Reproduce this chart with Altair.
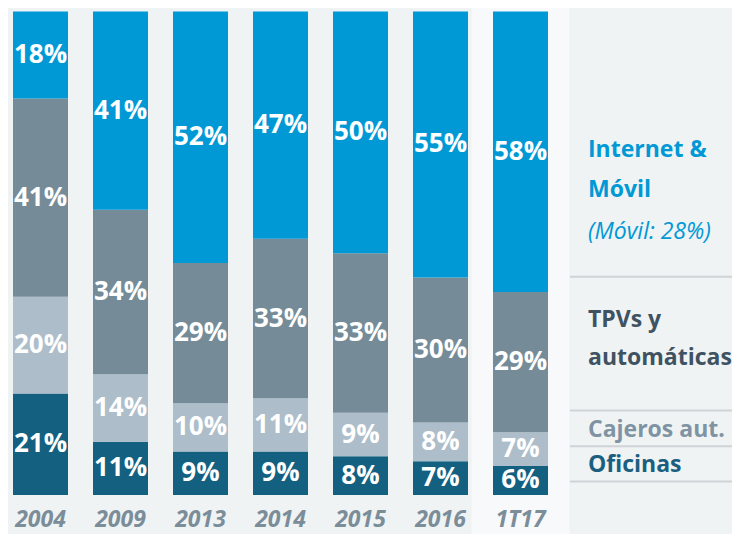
import altair as alt
import pandas as pd

# ---- data ----
years = ["2004", "2009", "2013", "2014", "2015", "2016", "1T17"]
internet = [18, 41, 52, 47, 50, 55, 58]
tpvs = [41, 34, 29, 33, 33, 30, 29]
cajeros = [20, 14, 10, 11, 9, 8, 7]
oficinas = [21, 11, 9, 9, 8, 7, 6]
series_names = ["Oficinas", "Cajeros aut.", "TPVs y automáticas", "Internet & Móvil"]
series_colors = ["#136080", "#adbdca", "#758c98", "#0099d6"]
highlight_year = ["1T17"]

legend_internet = ["Internet &", "Móvil"]
legend_movil = "(Móvil: 28%)"
legend_tpvs = ["TPVs y", "automáticas"]
legend_cajeros = "Cajeros aut."
legend_oficinas = "Oficinas"

# ---- table ----
rows = []
for i, yr in enumerate(years):
    base = 0
    for name, vals in zip(series_names, [oficinas, cajeros, tpvs, internet]):
        v = vals[i]
        rows.append(dict(year=yr, series=name, value=v, y0=base, y1=base + v,
                         mid=base + v / 2, label=f"{v}%"))
        base += v
df = pd.DataFrame(rows)

W, H = 724, 526
FONT = "Open Sans"

xs = alt.Scale(domain=years, range=[-7.5, 552.5], paddingInner=0.3125, paddingOuter=0.15625)
ys = alt.Scale(domain=[0, 100], range=[487, 3.5])

highlight = alt.Chart(pd.DataFrame({"year": highlight_year})).mark_bar(
    size=98, color="#f7f9fa"
).encode(
    x=alt.X("year:N", scale=xs, axis=None, sort=years),
    y=alt.value(0),
    y2=alt.value(H),
)

bars = alt.Chart(df).mark_bar().encode(
    x=alt.X("year:N", scale=xs, axis=None, sort=years),
    y=alt.Y("y0:Q", scale=ys, axis=None),
    y2="y1:Q",
    color=alt.Color("series:N", scale=alt.Scale(domain=series_names, range=series_colors), legend=None),
)

labels = alt.Chart(df).mark_text(
    font=FONT, fontWeight="bold", fontSize=26, color="white", baseline="middle", align="center"
).encode(
    x=alt.X("year:N", scale=xs, axis=None, sort=years),
    y=alt.Y("mid:Q", scale=ys, axis=None),
    text="label:N",
)

year_labels = alt.Chart(pd.DataFrame({"year": years})).mark_text(
    font=FONT, fontWeight="bold", fontStyle="italic", fontSize=23, color="#7a8d99",
    baseline="alphabetic", align="center"
).encode(
    x=alt.X("year:N", scale=xs, axis=None, sort=years),
    y=alt.value(519),
    text="year:N",
)

one = pd.DataFrame({"a": [0]})


def legend_text(txt, y, color, italic=False, bold=True):
    kw = dict(font=FONT, fontSize=23, color=color, align="left", baseline="middle")
    if italic:
        kw["fontStyle"] = "italic"
    kw["fontWeight"] = "bold" if bold else "normal"
    return alt.Chart(one).mark_text(text=txt, **kw).encode(x=alt.value(580), y=alt.value(y))


def sep(y):
    return alt.Chart(one).mark_rule(color="#cfd3d6", strokeWidth=2).encode(
        x=alt.value(562), x2=alt.value(W), y=alt.value(y)
    )


legend_layers = [
    legend_text(legend_internet[0], 142, "#0099d6"),
    legend_text(legend_internet[1], 182, "#0099d6"),
    legend_text(legend_movil, 224, "#0099d6", italic=True, bold=False),
    sep(268.7),
    legend_text(legend_tpvs[0], 312, "#3f5261"),
    legend_text(legend_tpvs[1], 350, "#3f5261"),
    sep(402.6),
    legend_text(legend_cajeros, 422, "#7f93a3"),
    sep(438.2),
    legend_text(legend_oficinas, 457, "#1a5f80"),
    sep(473.5),
]

chart = alt.layer(highlight, bars, labels, year_labels, *legend_layers).properties(
    width=W, height=H, padding=0, autosize=alt.AutoSizeParams(type="none"),
    background="#eff3f4",
).configure_view(stroke=None)

chart.save("out.html", embed_options={"renderer": "svg", "actions": False})
